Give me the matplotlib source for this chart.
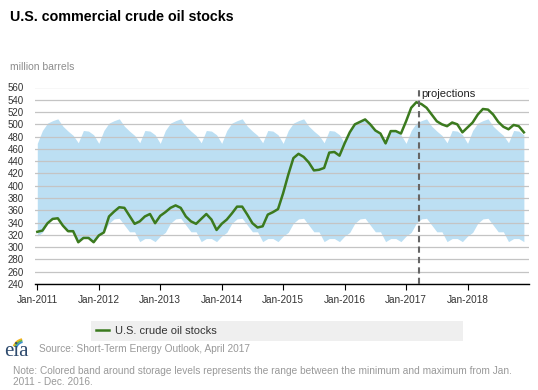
import numpy as np
import matplotlib.pyplot as plt
from matplotlib.patches import Arc

plt.rcParams['font.family'] = ['Liberation Sans', 'DejaVu Sans']

# monthly values, Jan-2011 .. Dec-2018 (million barrels)
years = ['2011', '2012', '2013', '2014', '2015', '2016', '2017', '2018']
stocks = [325, 327, 339, 346, 347, 335, 326, 326, 308, 315, 315, 308,
          319, 324, 350, 358, 365, 364, 351, 338, 342, 350, 354, 339,
          351, 357, 364, 368, 364, 350, 342, 338, 346, 354, 345, 328,
          338, 345, 355, 366, 366, 353, 339, 332, 334, 353, 357, 362,
          388, 418, 445, 452, 447, 438, 425, 426, 429, 454, 455, 449,
          469, 487, 500, 504, 508, 500, 490, 485, 469, 489, 489, 485,
          505, 527, 536, 533, 527, 516, 505, 500, 497, 503, 500, 487,
          495, 503, 516, 525, 524, 516, 504, 496, 492, 499, 497, 487]
# range of 2011-2016 by calendar month
band_max = [469, 490, 502, 506, 509, 497, 489, 482, 470, 490, 489, 483]
band_min = [318, 324, 339, 346, 347, 336, 325, 325, 309, 314, 314, 309]
proj_start = 74.6

months = np.arange(len(stocks))
hi = np.tile(band_max, len(years))
lo = np.tile(band_min, len(years))

fig = plt.figure(figsize=(5.38, 3.90), dpi=100)
ax = fig.add_axes([35/538, 1-284/390, 494/538, 196.5/390])

ax.fill_between(months, lo, hi, color='#bcdff3', lw=0, zorder=1)
line, = ax.plot(months, stocks, color='#3b7a1e', lw=1.8, zorder=3)
ax.axvline(proj_start, color='#666666', ls=(0, (3, 2)), lw=1.5, zorder=4)
ax.text(proj_start + 0.4, 549, 'projections', fontsize=8, color='#222222',
        ha='left', va='center')

ax.set_xlim(-0.45, 96)
ax.set_ylim(240, 560)
ax.set_yticks(range(240, 561, 20))
ax.set_xticks(range(0, 96, 12))
ax.set_xticklabels(['Jan-' + y for y in years])
ax.grid(axis='y', color='#c4c4c4', lw=0.9)
for s in ['left', 'top', 'right']:
    ax.spines[s].set_visible(False)
ax.spines['bottom'].set_color('black')
ax.spines['bottom'].set_linewidth(1.0)
ax.tick_params(axis='y', length=0, pad=8, labelsize=7, labelcolor='#333333')
ax.tick_params(axis='x', length=4, width=0.8, labelsize=7.2, pad=4,
               labelcolor='#333333')

fig.text(10/538, 1-17/390, 'U.S. commercial crude oil stocks', fontsize=10.3,
         fontweight='bold', color='black', va='center')
fig.text(10/538, 1-67/390, 'million barrels', fontsize=7.5, color='#8c8c8c',
         va='center')

fig.legend([line], ['U.S. crude oil stocks'], loc='lower left',
           bbox_to_anchor=(91/538, 1-341/390, 372/538, 22/390), mode='expand',
           frameon=True, fancybox=False, facecolor='#efefef', edgecolor='none',
           framealpha=1, borderaxespad=0, borderpad=0.45, handlelength=1.2,
           handletextpad=0.5, fontsize=8, labelcolor='#333333')

fig.text(39/538, 1-348.5/390, 'Source: Short-Term Energy Outlook, April 2017',
         fontsize=7.3, color='#999999', va='center')
fig.text(13/538, 1-371/390,
         'Note: Colored band around storage levels represents the range between '
         'the minimum and maximum from Jan.', fontsize=7.3, color='#999999',
         va='center')
fig.text(13/538, 1-382/390, '2011 - Dec. 2016.', fontsize=7.3,
         color='#999999', va='center')

# eia logo
lax = fig.add_axes([4/538, 1-359/390, 28/538, 28/390])
lax.set_xlim(0, 28)
lax.set_ylim(0, 28)
lax.axis('off')
lax.text(12, 7, 'eia', fontfamily='Liberation Serif', fontsize=15,
         color='#2f4b6e', ha='center', va='center')
for r, c in [(11, '#f2b21c'), (9.5, '#6bb33f'), (8, '#3c8fd0')]:
    lax.add_patch(Arc((20, 9), 2*r, 2*r, theta1=100, theta2=160, color=c, lw=1.3))

fig.savefig('out.png', dpi=100)
